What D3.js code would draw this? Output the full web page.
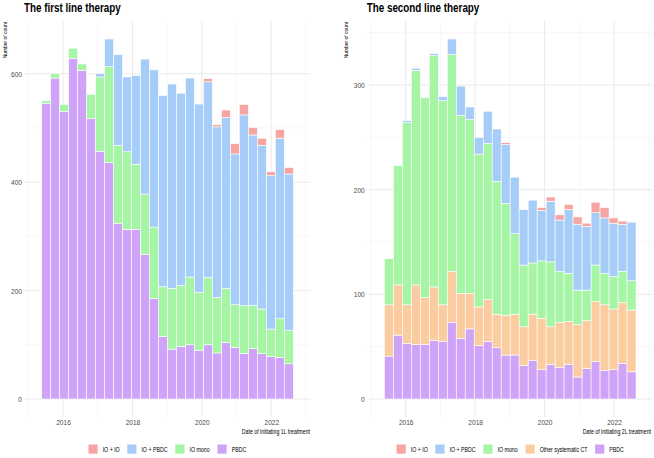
<!DOCTYPE html>
<html><head><meta charset="utf-8">
<script src="https://cdn.jsdelivr.net/npm/d3@7"></script>
<style>
body{margin:0;background:#fff}
svg{display:block}
text{font-family:"Liberation Sans",Arial,sans-serif}
</style>
</head><body>
<svg id="c" width="654" height="458"></svg>
<script>
// ---- data ----
const periods = ["2015 Q3","2015 Q4","2016 Q1","2016 Q2","2016 Q3","2016 Q4","2017 Q1","2017 Q2",
  "2017 Q3","2017 Q4","2018 Q1","2018 Q2","2018 Q3","2018 Q4","2019 Q1","2019 Q2","2019 Q3","2019 Q4",
  "2020 Q1","2020 Q2","2020 Q3","2020 Q4","2021 Q1","2021 Q2","2021 Q3","2021 Q4","2022 Q1","2022 Q2"];

// first line (1L)
const pbdc1L   = [545,592,530,628,606,517,457,436,324,313,313,267,185,115,92,97,100,90,100,85,104,95,84,93,84,78,77,65];
const ioMono1L = [5,8,13,19,12,45,137,177,144,143,120,111,132,92,112,112,125,107,124,102,100,79,88,80,82,51,71,61];
const ioPbdc1L = [0,0,0,0,0,0,6,51,167,138,164,249,290,353,377,355,367,347,361,315,315,278,352,314,302,283,333,289];
const ioIo1L   = [0,0,0,0,0,0,0,0,0,0,0,0,0,0,0,0,0,0,6,4,14,19,19,14,13,7,16,12];

// second line (2L)
const pbdc2L   = [41,61,53,52,52,56,55,73,58,67,51,55,49,42,42,32,37,28,33,30,33,21,29,36,27,28,34,26];
const otherCT2L= [49,48,37,57,45,51,35,49,43,34,37,40,32,38,39,37,44,49,36,43,41,50,46,57,63,58,58,59];
const ioMono2L = [44,114,174,205,191,221,195,207,170,166,146,149,127,107,77,59,49,55,62,49,46,33,29,35,30,31,30,28];
const ioPbdc2L = [0,0,2,2,0,2,4,15,28,12,16,31,50,56,54,53,60,48,58,49,61,63,61,50,53,51,45,56];
const ioIo2L   = [0,0,0,0,0,0,0,0,0,0,0,0,0,2,0,0,0,3,4,5,5,7,3,10,10,5,3,0];

const yMajor1L = [0,200,400,600], yMinor1L = [100,300,500];
const yMajor2L = [0,100,200,300], yMinor2L = [50,150,250,350];
const xMajorYears = [2016,2018,2020,2022], xMinorYears = [2015,2017,2019,2021,2023];

const colors = {"IO + IO":"#F7A5A3","IO + PBDC":"#A5CDF7","IO mono":"#A5F5A5",
  "Other systematic CT":"#FBCC9F","PBDC":"#CFA3F7"};

// ---- drawing ----
const svg = d3.select("#c");
const binStart = 2015.385, binEnd = 2022.635;
const NARROW = 0.82;
function narrow(sel){
  sel.each(function(){
    const len = this.getComputedTextLength();
    d3.select(this).attr("textLength", len*NARROW).attr("lengthAdjust","spacingAndGlyphs");
  });
}

function drawPanel(opt){
  const g = svg.append("g");
  const xYear = d3.scaleLinear().domain([2015,2023]).range([opt.x2015, opt.x2015 + 8*34.71]);
  const band = d3.scaleBand().domain(periods).range([xYear(binStart), xYear(binEnd)]).padding(0);
  const rows = periods.map((p,i)=>{const r={period:p}; opt.keys.forEach(k=>r[k]=opt.values[k][i]); return r;});
  const stacked = d3.stack().keys(opt.keys)(rows);
  const maxT = d3.max(rows, r=>d3.sum(opt.keys, k=>r[k]));
  const pad = maxT*0.05;
  const y = d3.scaleLinear().domain([-pad, maxT+pad]).range([opt.bottom, opt.top]);

  // grid
  const grid = g.append("g");
  grid.selectAll(".hmin").data(opt.yMinor).join("line")
    .attr("x1",opt.left).attr("x2",opt.right).attr("y1",d=>y(d)).attr("y2",d=>y(d))
    .attr("stroke","#EFEFEF").attr("stroke-width",0.5);
  grid.selectAll(".vmin").data(xMinorYears).join("line")
    .attr("y1",opt.top).attr("y2",opt.bottom).attr("x1",d=>xYear(d)).attr("x2",d=>xYear(d))
    .attr("stroke","#EFEFEF").attr("stroke-width",0.5);
  grid.selectAll(".hmaj").data(opt.yMajor).join("line")
    .attr("x1",opt.left).attr("x2",opt.right).attr("y1",d=>y(d)).attr("y2",d=>y(d))
    .attr("stroke","#E8E8E8").attr("stroke-width",0.9);
  grid.selectAll(".vmaj").data(xMajorYears).join("line")
    .attr("y1",opt.top).attr("y2",opt.bottom).attr("x1",d=>xYear(d)).attr("x2",d=>xYear(d))
    .attr("stroke","#E8E8E8").attr("stroke-width",0.9);

  // bars
  g.append("g").selectAll("g").data(stacked).join("g")
    .attr("fill", s=>colors[s.key])
    .selectAll("rect").data(s=>s).join("rect")
    .attr("x", d=>band(d.data.period)).attr("width", band.bandwidth())
    .attr("y", d=>y(d[1])).attr("height", d=>Math.max(0, y(d[0])-y(d[1])))
    .attr("stroke","#ffffff").attr("stroke-width",0.6);

  // axes
  const ya = g.append("g").attr("transform",`translate(${opt.left},0)`)
    .call(d3.axisLeft(y).tickValues(opt.yMajor).tickSize(0).tickPadding(3));
  ya.select(".domain").remove();
  ya.selectAll("text").attr("font-size",8).attr("fill","#4D4D4D").style("font-family",null).call(narrow);
  const xa = g.append("g").attr("transform",`translate(0,${opt.bottom})`)
    .call(d3.axisBottom(xYear).tickValues(xMajorYears).tickFormat(d3.format("d")).tickSize(0).tickPadding(2.5));
  xa.select(".domain").remove();
  xa.selectAll("text").attr("font-size",8).attr("fill","#4D4D4D").style("font-family",null).call(narrow);

  // titles
  g.append("text").attr("x",opt.titleX).attr("y",12).attr("font-size",12).attr("font-weight","bold")
    .attr("fill","#000").text(opt.title).call(narrow);
  g.append("text").attr("transform",`translate(${opt.yTitleX},${opt.top+1}) rotate(-90)`)
    .attr("text-anchor","end").attr("font-size",6).attr("fill","#000").text("Number of count").call(narrow);
  g.append("text").attr("transform",`translate(${opt.xTitleRight},433.5) scale(${NARROW},1)`)
    .attr("text-anchor","end").attr("font-size",6.4).attr("fill","#000").text(opt.xTitle);

  // legend
  const lg = g.append("g");
  let cx = 0;
  const items = opt.legend.map(k=>{
    const it = lg.append("g");
    it.append("rect").attr("x",0).attr("y",0).attr("width",9.2).attr("height",9.2).attr("fill",colors[k]);
    it.append("text").attr("x",14.2).attr("y",7).attr("font-size",6.4).attr("fill","#000").text(k).call(narrow);
    return it;
  });
  items.forEach(it=>{
    it.attr("transform",`translate(${cx},0)`);
    cx += it.node().getBBox().width + 7.5;
  });
  const total = cx - 7.5;
  lg.attr("transform",`translate(${(opt.left+opt.right)/2 - total/2},${444.5})`);
}

drawPanel({
  left:25, right:310, top:21, bottom:417, x2015:28.3, xTitleRight:310,
  keys:["PBDC","IO mono","IO + PBDC","IO + IO"],
  values:{"PBDC":pbdc1L,"IO mono":ioMono1L,"IO + PBDC":ioPbdc1L,"IO + IO":ioIo1L},
  yMajor:yMajor1L, yMinor:yMinor1L,
  title:"The first line therapy", titleX:24, yTitleX:6.6,
  xTitle:"Date of initiating 1L treatment",
  legend:["IO + IO","IO + PBDC","IO mono","PBDC"]
});
drawPanel({
  left:367.7, right:653, top:21, bottom:417, x2015:371, xTitleRight:651,
  keys:["PBDC","Other systematic CT","IO mono","IO + PBDC","IO + IO"],
  values:{"PBDC":pbdc2L,"Other systematic CT":otherCT2L,"IO mono":ioMono2L,"IO + PBDC":ioPbdc2L,"IO + IO":ioIo2L},
  yMajor:yMajor2L, yMinor:yMinor2L,
  title:"The second line therapy", titleX:366.7, yTitleX:347.6,
  xTitle:"Date of initiating 2L treatment",
  legend:["IO + IO","IO + PBDC","IO mono","Other systematic CT","PBDC"]
});
</script>
</body></html>
